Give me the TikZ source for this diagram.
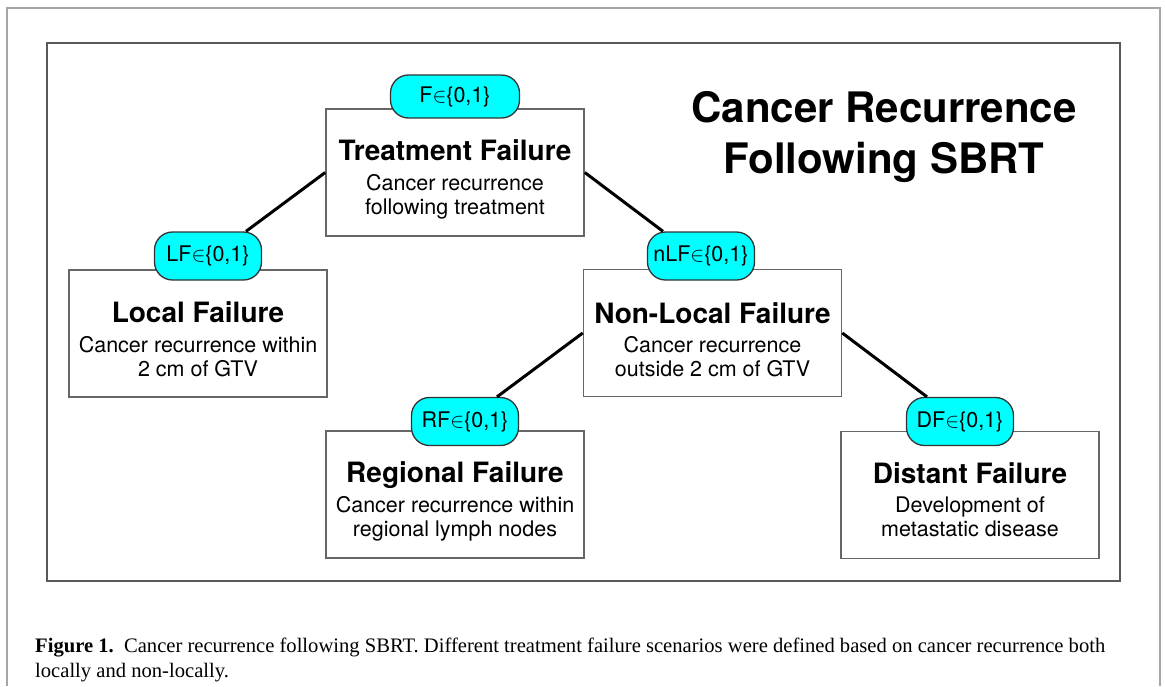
\documentclass[tikz,border=0pt]{standalone}
\usepackage{fontspec}
\setmainfont{TeX Gyre Heros}
\newfontfamily\capfont{Liberation Serif}
\definecolor{flagcyan}{RGB}{0,255,255}
\begin{document}
\begin{tikzpicture}[x=1pt,y=-1pt,
    failbox/.style={draw=black!60,line width=1.6pt,fill=white,minimum width=258pt,minimum height=127pt,inner sep=0pt},
    failtext/.style={anchor=base,align=center,font=\fontsize{21.5}{24}\selectfont},
    flag/.style={draw=black!80,line width=1.3pt,fill=flagcyan,rounded corners=18pt,minimum width=107pt,minimum height=48pt,inner sep=0pt,font=\fontsize{21.5}{25}\selectfont},
    link/.style={line width=3pt,black}]
  \useasboundingbox (0,0) rectangle (1165,686);
  % frames
  \draw[black!35,line width=1.5pt] (7,686) -- (7,8) -- (1160,8) -- (1160,686);
  \draw[black!65,line width=2pt] (47,43) rectangle (1120,581);
  % boxes
  \node[failbox] (tf)  at (455,172.5) {};
  \node[failbox] (lf)  at (198,333.5) {};
  \node[failbox] (nlf) at (712.5,333) {};
  \node[failbox] (rf)  at (455,494.5) {};
  \node[failbox] (df)  at (970,495) {};
  \node[failtext] (tf-txt)  at ([yshift=-106]tf.north)  {{\fontsize{28}{30}\bfseries Treatment Failure}\\[5.5pt]Cancer recurrence\\following treatment};
  \node[failtext] (lf-txt)  at ([yshift=-107]lf.north)  {{\fontsize{28}{30}\bfseries Local Failure}\\[5.5pt]Cancer recurrence within\\2 cm of GTV};
  \node[failtext] (nlf-txt) at ([yshift=-108]nlf.north) {{\fontsize{28}{30}\bfseries Non-Local Failure}\\[5.5pt]Cancer recurrence\\outside 2 cm of GTV};
  \node[failtext] (rf-txt)  at ([yshift=-106]rf.north)  {{\fontsize{28}{30}\bfseries Regional Failure}\\[5.5pt]Cancer recurrence within\\regional lymph nodes};
  \node[failtext] (df-txt)  at ([yshift=-106]df.north)  {{\fontsize{28}{30}\bfseries Distant Failure}\\[5.5pt]Development of\\metastatic disease};
  % flags
  \node[flag,minimum width=129pt,minimum height=43pt] (tfp) at (455,96.5) {F$\in$\{0,1\}};
  \node[flag] (lfp)  at (208,256) {LF$\in$\{0,1\}};
  \node[flag] (nlfp) at (701,256) {nLF$\in$\{0,1\}};
  \node[flag] (rfp)  at (465,421.5) {RF$\in$\{0,1\}};
  \node[flag] (dfp)  at (960,421.5) {DF$\in$\{0,1\}};
  % links
  \draw[link] (tf.west) -- ([xshift=38]lfp.north);
  \draw[link] (tf.east) -- ([xshift=-38]nlfp.north);
  \draw[link] (nlf.west) -- ([xshift=32]rfp.north);
  \draw[link] (nlf.east) -- ([xshift=-33]dfp.north);
  % title
  \node[anchor=base,align=center,font=\fontsize{42}{51}\selectfont\bfseries] (head) at (884,173) {Cancer Recurrence\\Following SBRT};
  % caption
  \node[anchor=base west,align=left,inner sep=0pt,font=\capfont\fontsize{20.6}{25}\selectfont] (cap) at (35,677)
    {\textbf{Figure 1.}\enspace Cancer recurrence following SBRT. Different treatment failure scenarios were defined based on cancer recurrence both\\locally and non-locally.};
\end{tikzpicture}
\end{document}
